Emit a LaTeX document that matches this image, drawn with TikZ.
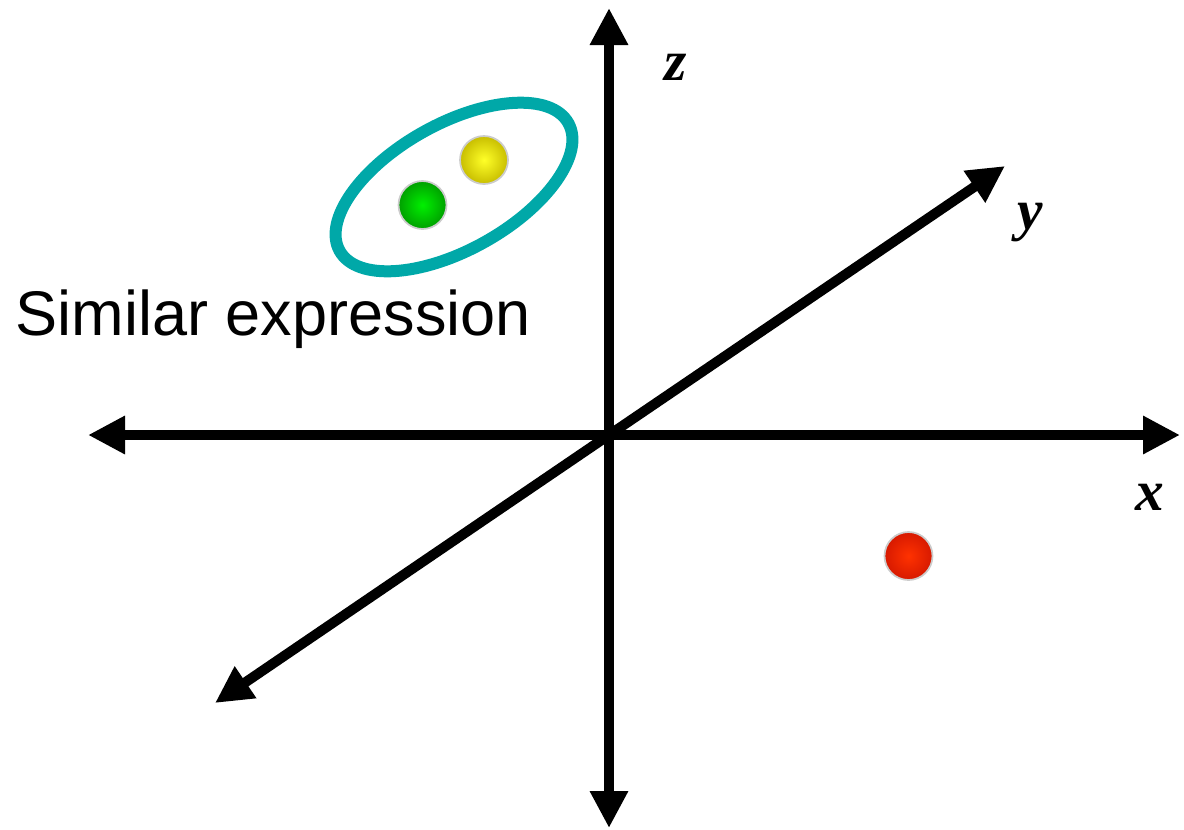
\documentclass[tikz,border=0pt]{standalone}
\usepackage{fontspec}
\setmainfont{Liberation Serif}
\setsansfont{Liberation Sans}
\usetikzlibrary{arrows.meta}
\definecolor{tealring}{RGB}{0,168,168}
\begin{document}
\begin{tikzpicture}[x=0.75pt,y=-0.75pt,
  axis/.style={line width=7.5pt,-{Triangle[length=27.75pt,width=27pt]}},
  axislabel/.style={anchor=base,inner sep=0pt,font=\fontsize{43}{46}\selectfont\bfseries\itshape},
  ball/.style={circle,minimum size=36pt,inner sep=0pt,draw=gray!40,line width=1.3pt,shading=radial}]
\useasboundingbox (0,0) rectangle (1184,829);
\coordinate (O) at (609,435);
\coordinate (xL) at (88,435);
\coordinate (xR) at (1180,435);
\coordinate (zT) at (609,8);
\coordinate (zB) at (609,828);
\coordinate (yT) at (1005,166);
\coordinate (yB) at (215,703);
\draw[axis] (O) -- (xR);
\draw[axis] (O) -- (xL);
\draw[axis] (O) -- (zT);
\draw[axis] (O) -- (zB);
\draw[axis] (O) -- (yT);
\draw[axis] (O) -- (yB);
\node[axislabel] (lx) at (1150,510) {x};
\node[axislabel] (ly) at (1030,229) {y};
\node[axislabel] (lz) at (676,80) {z};
\draw[tealring,line width=9pt,rotate around={29.2:(454,187)}] (454,187) ellipse [x radius=131,y radius=63];
\node[ball,inner color={rgb,255:red,255;green,255;blue,40},outer color={rgb,255:red,200;green,190;blue,0}] (yellow) at (484,160) {};
\node[ball,inner color={rgb,255:red,0;green,240;blue,0},outer color={rgb,255:red,0;green,160;blue,0}] (green) at (422.5,205) {};
\node[ball,inner color={rgb,255:red,255;green,50;blue,0},outer color={rgb,255:red,215;green,25;blue,0}] (red) at (908.5,556) {};
\node[anchor=base west,inner sep=0pt,font=\sffamily\fontsize{47.3}{50}\selectfont] (sim) at (15.5,335) {Similar expression};
\end{tikzpicture}
\end{document}
